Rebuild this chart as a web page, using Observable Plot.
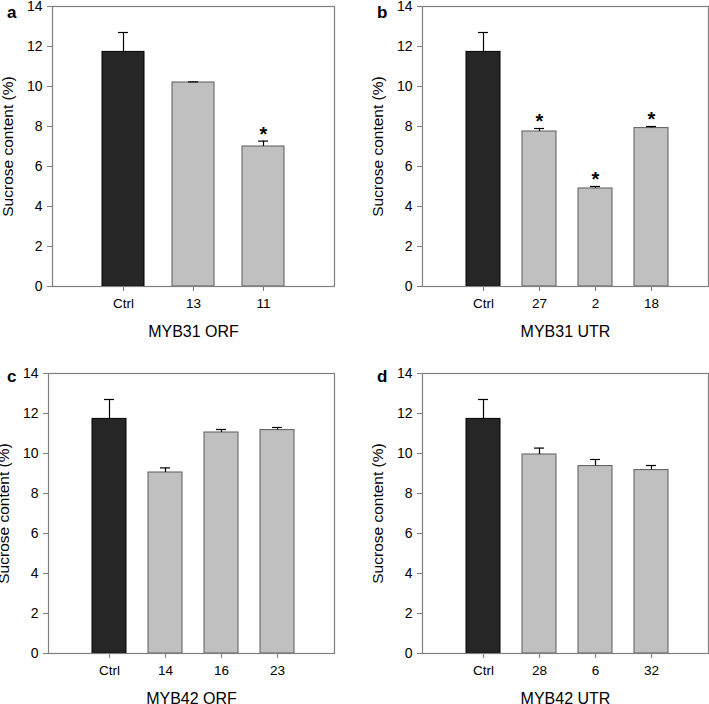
<!DOCTYPE html>
<html>
<head>
<meta charset="utf-8">
<script src="https://cdn.jsdelivr.net/npm/d3@7"></script>
<script src="https://cdn.jsdelivr.net/npm/@observablehq/plot@0.6"></script>
<style>
  html, body { margin: 0; padding: 0; background: #fff; }
  #root { position: relative; width: 709px; height: 704px; overflow: hidden; font-family: "Liberation Sans", Arial, sans-serif; }
  .panel { position: absolute; }
  .letter { position: absolute; font-weight: bold; font-size: 17px; line-height: 1; }
</style>
</head>
<body>
<div id="root"></div>
<script>
// ---- data ----
const panelLetters = ["a", "b", "c", "d"];
const panelTitles = ["MYB31 ORF", "MYB31 UTR", "MYB42 ORF", "MYB42 UTR"];
const yLabel = "Sucrose content (%)";
const yTicks = [0, 2, 4, 6, 8, 10, 12, 14];

const catsA = ["Ctrl", "13", "11"];
const valsA = [11.73, 10.20, 7.00];
const errA  = [0.97, 0.03, 0.27];
const sigA  = [false, false, true];

const catsB = ["Ctrl", "27", "2", "18"];
const valsB = [11.73, 7.75, 4.90, 7.92];
const errB  = [0.97, 0.15, 0.10, 0.08];
const sigB  = [false, true, true, true];

const catsC = ["Ctrl", "14", "16", "23"];
const valsC = [11.73, 9.05, 11.05, 11.17];
const errC  = [0.97, 0.23, 0.15, 0.13];
const sigC  = [false, false, false, false];

const catsD = ["Ctrl", "28", "6", "32"];
const valsD = [11.73, 9.95, 9.37, 9.17];
const errD  = [0.97, 0.32, 0.33, 0.23];
const sigD  = [false, false, false, false];

// ---- layout ----
const panels = [
  {cats: catsA, vals: valsA, errs: errA, sig: sigA, left: 0,   top: 0,   width: 354, height: 340, m: {l: 52, r: 20, t: 6,  b: 54}, pi: 0.4,   po: 0.714, align: 0.5,  letter: {x: 7,   y: 4}},
  {cats: catsB, vals: valsB, errs: errB, sig: sigB, left: 354, top: 0,   width: 355, height: 340, m: {l: 68, r: 1,  t: 6,  b: 54}, pi: 0.393, po: 0.75,  align: 0.524, letter: {x: 377, y: 4}},
  {cats: catsC, vals: valsC, errs: errC, sig: sigC, left: 0,   top: 340, width: 354, height: 364, m: {l: 48, r: 20, t: 33, b: 51}, pi: 0.393, po: 0.75,  align: 0.524, letter: {x: 7,   y: 368}},
  {cats: catsD, vals: valsD, errs: errD, sig: sigD, left: 354, top: 340, width: 355, height: 364, m: {l: 68, r: 1,  t: 33, b: 51}, pi: 0.393, po: 0.75,  align: 0.524, letter: {x: 377, y: 368}}
];

const root = document.getElementById("root");
const font = "'Liberation Sans', Arial, sans-serif";

panels.forEach((p, i) => {
  const data = p.cats.map((c, j) => ({cat: c, value: p.vals[j], err: p.errs[j], sig: p.sig[j]}));
  const innerW = p.width - p.m.l - p.m.r;
  const n = p.cats.length;
  const step = innerW / (n - p.pi + 2 * p.po);
  const bw = step * (1 - p.pi);
  const capInset = Math.max(0, (bw - 10) / 2);

  const chart = Plot.plot({
    width: p.width,
    height: p.height,
    marginLeft: p.m.l,
    marginRight: p.m.r,
    marginTop: p.m.t,
    marginBottom: p.m.b,
    style: {fontFamily: font, fontSize: "14px", color: "black", background: "white", overflow: "visible"},
    x: {type: "band", domain: p.cats, paddingInner: p.pi, paddingOuter: p.po, align: p.align},
    y: {domain: [0, 14]},
    color: {type: "identity"},
    marks: [
      Plot.barY(data, {
        x: "cat", y: "value",
        fill: d => d.cat === "Ctrl" ? "#262626" : "#c0c0c0",
        stroke: d => d.cat === "Ctrl" ? "#000000" : "#5a5a5a",
        strokeWidth: 1
      }),
      Plot.ruleX(data, {x: "cat", y1: "value", y2: d => d.value + d.err, stroke: "black", strokeWidth: 1.2}),
      Plot.tickY(data, {x: "cat", y: d => d.value + d.err, stroke: "black", strokeWidth: 1.2, insetLeft: capInset, insetRight: capInset}),
      Plot.text(data.filter(d => d.sig), {x: "cat", y: d => d.value + d.err, text: () => "*", fontSize: 20, fontWeight: "bold", dy: -7}),
      Plot.frame({stroke: "#808080", strokeWidth: 1.2}),
      Plot.axisY({ticks: yTicks, tickSize: 5, tickPadding: 5, stroke: "#808080", fill: "black", fontSize: 14, label: null, tickFormat: d => String(d)}),
      Plot.axisX({tickSize: 5, tickPadding: 7, stroke: "#808080", fill: "black", fontSize: 13.5, label: null}),
      Plot.text([yLabel], {frameAnchor: "left", rotate: -90, dx: -44, textAnchor: "middle", lineAnchor: "middle", fontSize: 15.5, text: d => d}),
      Plot.text([panelTitles[i]], {frameAnchor: "bottom", dy: 45, textAnchor: "middle", lineAnchor: "middle", fontSize: 16, text: d => d})
    ]
  });
  chart.classList.add("panel");
  chart.style.left = p.left + "px";
  chart.style.top = p.top + "px";
  root.appendChild(chart);

  const lt = document.createElement("div");
  lt.className = "letter";
  lt.textContent = panelLetters[i];
  lt.style.left = p.letter.x + "px";
  lt.style.top = p.letter.y + "px";
  root.appendChild(lt);
});
</script>
</body>
</html>
